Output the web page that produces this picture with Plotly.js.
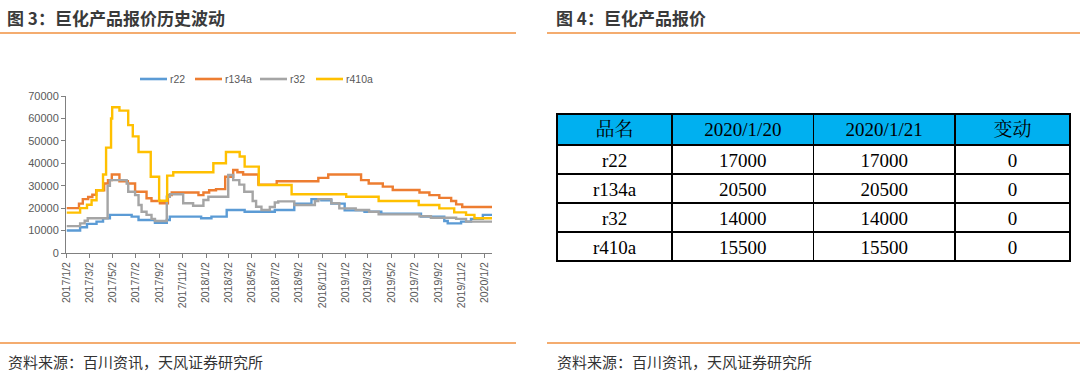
<!DOCTYPE html>
<html>
<head>
<meta charset="utf-8">
<script src="https://cdn.plot.ly/plotly-3.0.1.min.js"></script>
<style>
html,body{margin:0;padding:0;background:#fff;}
#chart{width:1080px;height:378px;}
</style>
</head>
<body>
<div id="chart"></div>
<script>
// ---- Line chart data (step series) ----
const r22Dates = ['2017-01-02','2017-02-06','2017-02-24','2017-03-21','2017-04-07','2017-04-25','2017-06-21','2017-07-09','2017-08-21','2017-09-21','2017-09-29','2017-12-20','2018-01-16','2018-02-25','2018-04-13','2018-07-01','2018-08-21','2018-10-05','2018-10-31','2018-11-26','2018-12-31','2019-02-21','2019-04-06','2019-07-19','2019-09-18','2019-09-27','2019-11-01','2019-11-27','2019-12-28','2020-01-21'];
const r22Vals  = [10000,11500,13000,14000,15500,17000,16200,14700,13500,14700,16200,15500,16200,19200,18400,19200,22000,24000,23500,22000,19000,18400,17500,16200,14300,13200,14000,15200,17000,17000];

const r134aDates = ['2017-01-02','2017-02-03','2017-02-13','2017-02-27','2017-03-10','2017-03-20','2017-04-10','2017-04-20','2017-04-30','2017-05-20','2017-06-11','2017-06-30','2017-07-30','2017-08-12','2017-09-03','2017-09-24','2017-10-04','2017-12-13','2017-12-26','2018-01-10','2018-01-28','2018-02-21','2018-03-14','2018-03-25','2018-04-09','2018-05-19','2018-07-06','2018-10-23','2018-11-18','2019-02-12','2019-03-04','2019-04-10','2019-05-06','2019-07-15','2019-08-10','2019-09-05','2019-10-06','2019-10-19','2019-11-04','2020-01-21'];
const r134aVals  = [20000,22000,24000,25000,26000,28000,31000,32500,35000,32000,31000,27300,24400,23200,22200,25800,27000,25800,27000,28000,28500,34000,37000,36000,35000,30500,32000,33500,35000,32500,31000,29600,28100,27000,25800,24600,23200,21700,20500,20500];

const r32Dates = ['2017-01-02','2017-02-06','2017-02-18','2017-02-26','2017-04-19','2017-04-25','2017-06-08','2017-06-12','2017-06-30','2017-07-09','2017-07-17','2017-07-30','2017-08-12','2017-08-21','2017-09-21','2017-09-29','2017-11-03','2017-11-29','2017-12-26','2018-01-08','2018-03-01','2018-03-14','2018-03-30','2018-04-12','2018-05-04','2018-05-13','2018-05-27','2018-06-18','2018-07-01','2018-07-10','2018-08-21','2018-10-14','2018-10-23','2018-11-26','2018-12-17','2019-01-29','2019-03-05','2019-03-30','2019-07-15','2019-08-14','2019-10-19','2019-11-14','2020-01-21'];
const r32Vals  = [12000,13200,14400,15500,30000,32500,31000,27300,25800,21400,18400,17000,15200,14300,25100,26200,22200,21100,23600,25100,34800,32500,30500,27300,23200,20600,19200,20500,22500,23000,21400,23200,24000,22200,19900,19200,18400,17200,16400,15700,15200,14000,14000];

const r410aDates = ['2017-01-02','2017-02-06','2017-02-24','2017-03-08','2017-03-21','2017-04-07','2017-04-15','2017-04-28','2017-05-01','2017-05-20','2017-06-12','2017-06-24','2017-07-09','2017-08-10','2017-09-01','2017-09-22','2017-10-08','2018-01-21','2018-02-23','2018-03-31','2018-04-13','2018-05-20','2018-08-14','2019-01-04','2019-03-30','2019-07-13','2019-09-05','2019-10-14','2019-11-14','2019-12-06','2020-01-21'];
const r410aVals  = [18000,20000,21500,23500,28000,35000,47000,60000,65000,63500,57000,52000,45000,34000,23300,34500,36000,40000,45000,43000,38500,30300,26200,25100,23200,21400,19900,18100,17000,15500,15500];

const seriesNames  = ['r22','r134a','r32','r410a'];
const seriesColors = ['#5B9BD5','#ED7D31','#A5A5A5','#FFC000'];

// x tick labels
const xTickVals = ['2017-01-02','2017-03-02','2017-05-02','2017-07-02','2017-09-02','2017-11-02','2018-01-02','2018-03-02','2018-05-02','2018-07-02','2018-09-02','2018-11-02','2019-01-02','2019-03-02','2019-05-02','2019-07-02','2019-09-02','2019-11-02','2020-01-02'];
const xTickText = ['2017/1/2','2017/3/2','2017/5/2','2017/7/2','2017/9/2','2017/11/2','2018/1/2','2018/3/2','2018/5/2','2018/7/2','2018/9/2','2018/11/2','2019/1/2','2019/3/2','2019/5/2','2019/7/2','2019/9/2','2019/11/2','2020/1/2'];
const yTickVals = [0,10000,20000,30000,40000,50000,60000,70000];

// ---- Table data ----
const tableHeader = ['品名','2020/1/20','2020/1/21','变动'];
const productNames = ['r22','r134a','r32','r410a'];
const price0120 = [17000,20500,14000,15500];
const price0121 = [17000,20500,14000,15500];
const priceChange = [0,0,0,0];

// ---- Text ----
const leftTitle = '图 3：巨化产品报价历史波动';
const rightTitle = '图 4：巨化产品报价';
const sourceText = '资料来源：百川资讯，天风证券研究所';

const W = 1080, H = 378;
const px = x => x / W;
const py = y => 1 - y / H;

const xs = [r22Dates, r134aDates, r32Dates, r410aDates];
const ys = [r22Vals, r134aVals, r32Vals, r410aVals];

const traces = seriesNames.map((n, i) => ({
  type: 'scatter', mode: 'lines', name: n,
  x: xs[i], y: ys[i],
  line: {shape: 'hv', color: seriesColors[i], width: 2.4},
  xaxis: 'x', yaxis: 'y', hoverinfo: 'skip', showlegend: false
}));

const serif = '"Liberation Serif", "Times New Roman", "Noto Serif CJK SC", "Noto Sans CJK SC", serif';

traces.push({
  type: 'table',
  domain: {x: [px(557), px(1070)], y: [py(262), py(114)]},
  columnwidth: [115, 141, 141, 115],
  header: {
    values: tableHeader,
    fill: {color: '#00B0F0'},
    line: {color: '#000', width: 1.5},
    align: 'center', height: 31,
    font: {family: serif, size: 19, color: '#000'}
  },
  cells: {
    values: [productNames, price0120, price0121, priceChange],
    fill: {color: '#fff'},
    line: {color: '#000', width: 1.5},
    align: 'center', height: 29,
    font: {family: serif, size: 19, color: '#000'}
  }
});

const orange = '#F0903F';
const shapes = [
  {type:'line', xref:'paper', yref:'paper', x0:0, x1:px(516), y0:py(33), y1:py(33), line:{color:orange, width:1.6}},
  {type:'line', xref:'paper', yref:'paper', x0:px(547), x1:1, y0:py(33), y1:py(33), line:{color:orange, width:1.6}},
  {type:'line', xref:'paper', yref:'paper', x0:0, x1:px(516), y0:py(343), y1:py(343), line:{color:orange, width:1.6}},
  {type:'line', xref:'paper', yref:'paper', x0:px(547), x1:1, y0:py(343), y1:py(343), line:{color:orange, width:1.6}}
];

const cjk = '"Noto Sans CJK SC", "Noto Sans", sans-serif';
const legendFont = {family: '"Liberation Sans", Arial, sans-serif', size: 10.5, color: '#595959'};
const annotations = [
  {text: '<b>' + leftTitle + '</b>', xref:'paper', yref:'paper', x:px(5), y:py(17), xanchor:'left', yanchor:'middle', showarrow:false, font:{family:cjk, size:17, color:'#3a3a3a'}},
  {text: '<b>' + rightTitle + '</b>', xref:'paper', yref:'paper', x:px(554), y:py(17), xanchor:'left', yanchor:'middle', showarrow:false, font:{family:cjk, size:17, color:'#3a3a3a'}},
  {text: sourceText, xref:'paper', yref:'paper', x:px(6), y:py(361), xanchor:'left', yanchor:'middle', showarrow:false, font:{family:cjk, size:15, color:'#333'}},
  {text: sourceText, xref:'paper', yref:'paper', x:px(555), y:py(361), xanchor:'left', yanchor:'middle', showarrow:false, font:{family:cjk, size:15, color:'#333'}}
];

// custom legend (compact, as in the reference)
const legendStarts = [140, 195, 260, 316];
seriesNames.forEach((n, i) => {
  const x0 = legendStarts[i];
  shapes.push({type:'line', xref:'paper', yref:'paper', x0:px(x0), x1:px(x0 + 27), y0:py(79), y1:py(79), line:{color:seriesColors[i], width:2.6}});
  annotations.push({text: n, xref:'paper', yref:'paper', x:px(x0 + 28), y:py(79), xanchor:'left', yanchor:'middle', showarrow:false, font:legendFont});
});

const tickFont = {family: '"Liberation Sans", Arial, sans-serif', size: 10.5, color: '#595959'};

const layout = {
  width: W, height: H,
  margin: {l:0, r:0, t:0, b:0},
  paper_bgcolor: '#fff', plot_bgcolor: '#fff',
  showlegend: false,
  xaxis: {
    domain: [px(66), px(492)],
    type: 'date',
    range: ['2016-12-31', '2020-01-21'],
    tickmode: 'array', tickvals: xTickVals, ticktext: xTickText,
    tickangle: -90, tickfont: tickFont,
    ticks: 'outside', ticklen: 4, tickcolor: '#808080',
    showline: true, linecolor: '#808080', linewidth: 1,
    showgrid: false, zeroline: false, fixedrange: true
  },
  yaxis: {
    domain: [py(253), py(96)],
    range: [0, 70000],
    tickmode: 'array', tickvals: yTickVals,
    tickformat: 'd',
    tickfont: {family: '"Liberation Sans", Arial, sans-serif', size: 11, color: '#595959'},
    ticks: 'outside', ticklen: 4, tickcolor: '#808080',
    showline: true, linecolor: '#808080', linewidth: 1,
    showgrid: false, zeroline: false, fixedrange: true
  },
  shapes: shapes,
  annotations: annotations
};

Plotly.newPlot('chart', traces, layout, {staticPlot: true, displayModeBar: false});
</script>
</body>
</html>
